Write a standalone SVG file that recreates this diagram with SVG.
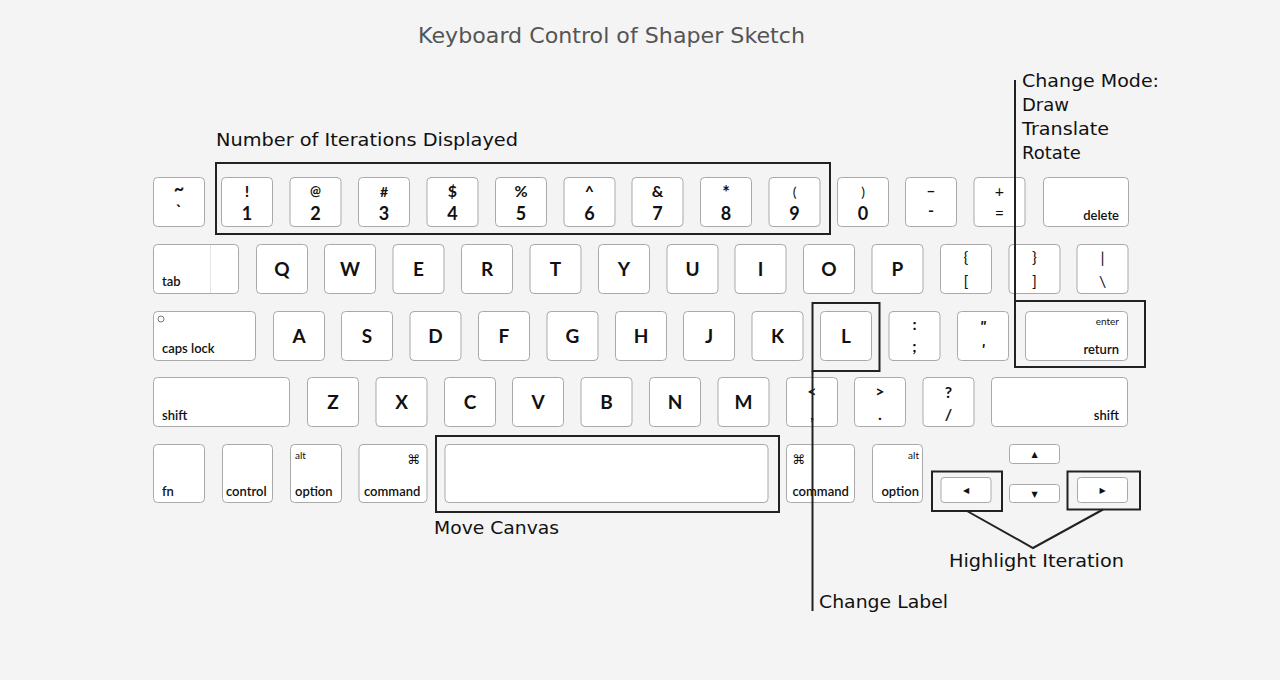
<svg xmlns="http://www.w3.org/2000/svg" width="1280" height="680" viewBox="0 0 1280 680">
<style>
.k{fill:#fff;stroke:#a9a9a9;stroke-width:1}
.L{font-family:Lato,"DejaVu Sans",sans-serif;font-weight:700;font-size:19px;text-anchor:middle;fill:#111}
.d{font-family:Lato,"DejaVu Sans",sans-serif;font-weight:700;font-size:18px;text-anchor:middle;fill:#111}
.s{font-family:Lato,"DejaVu Sans",sans-serif;font-weight:700;font-size:16px;text-anchor:middle;fill:#111}
.t{font-family:Lato,"DejaVu Sans",sans-serif;font-weight:400;font-size:16px;text-anchor:middle;fill:#111}
.m{font-family:Lato,"DejaVu Sans",sans-serif;font-weight:600;font-size:13px;fill:#111}
.me{text-anchor:end}
.sm{font-family:Lato,"DejaVu Sans",sans-serif;font-size:10px;fill:#111}
.sym{font-family:"DejaVu Sans",sans-serif;font-size:13px;fill:#111}
.ar{font-family:"DejaVu Sans",sans-serif;font-size:8px;text-anchor:middle;fill:#111}
.hb{fill:none;stroke:#222;stroke-width:2}
.cn{fill:none;stroke:#222;stroke-width:2}
.a{font-family:"DejaVu Sans",sans-serif;font-size:18px;fill:#111}
.title{font-family:"DejaVu Sans",sans-serif;font-size:22px;fill:#555;text-anchor:middle}
</style>
<rect width="1280" height="680" fill="#f4f4f4"/>
<text class="title" x="611.5" y="43" textLength="387" lengthAdjust="spacingAndGlyphs">Keyboard Control of Shaper Sketch</text>

<g id="row1">
<g id="key-tilde"><rect class="k" x="153.5" y="177.5" width="51" height="49" rx="4"/><text class="s" x="179" y="195" style="font-size:18px">~</text><text class="s" x="179" y="216">`</text></g>
<g id="key-1"><rect class="k" x="221.5" y="177.5" width="51" height="49" rx="4"/><text class="s" x="247" y="197">!</text><text class="d" x="247" y="220">1</text></g>
<g id="key-2"><rect class="k" x="290" y="177.5" width="51" height="49" rx="4"/><text class="s" x="315.5" y="196" style="font-size:13px">@</text><text class="d" x="315.5" y="220">2</text></g>
<g id="key-3"><rect class="k" x="358.5" y="177.5" width="51" height="49" rx="4"/><text class="s" x="384" y="197" style="font-size:14px">#</text><text class="d" x="384" y="220">3</text></g>
<g id="key-4"><rect class="k" x="427" y="177.5" width="51" height="49" rx="4"/><text class="s" x="452.5" y="197">$</text><text class="d" x="452.5" y="220">4</text></g>
<g id="key-5"><rect class="k" x="495.5" y="177.5" width="51" height="49" rx="4"/><text class="s" x="521" y="197">%</text><text class="d" x="521" y="220">5</text></g>
<g id="key-6"><rect class="k" x="564" y="177.5" width="51" height="49" rx="4"/><text class="s" x="589.5" y="197">^</text><text class="d" x="589.5" y="220">6</text></g>
<g id="key-7"><rect class="k" x="632" y="177.5" width="51" height="49" rx="4"/><text class="s" x="657.5" y="197">&amp;</text><text class="d" x="657.5" y="220">7</text></g>
<g id="key-8"><rect class="k" x="700.5" y="177.5" width="51" height="49" rx="4"/><text class="s" x="726" y="199" style="font-size:18px">*</text><text class="d" x="726" y="220">8</text></g>
<g id="key-9"><rect class="k" x="769" y="177.5" width="51" height="49" rx="4"/><text class="t" x="794.5" y="197" style="font-size:14px">(</text><text class="d" x="794.5" y="220">9</text></g>
<g id="key-0"><rect class="k" x="837.5" y="177.5" width="51" height="49" rx="4"/><text class="t" x="863" y="197" style="font-size:14px">)</text><text class="d" x="863" y="220">0</text></g>
<g id="key-minus"><rect class="k" x="905.5" y="177.5" width="51" height="49" rx="4"/><text class="s" x="931" y="196">–</text><text class="s" x="931" y="216">-</text></g>
<g id="key-equal"><rect class="k" x="974" y="177.5" width="51" height="49" rx="4"/><text class="t" x="999.5" y="197">+</text><text class="t" x="999.5" y="219">=</text></g>
<g id="key-delete"><rect class="k" x="1043.5" y="177.5" width="85" height="49" rx="4"/><text class="m me" x="1119" y="219.5">delete</text></g>
</g>

<g id="row2">
<g id="key-tab"><rect class="k" x="153.5" y="244.5" width="85" height="49" rx="4"/><line x1="210.5" y1="245" x2="210.5" y2="293" stroke="#e4e4e4"/><text class="m" x="162" y="286">tab</text></g>
<g id="key-q"><rect class="k" x="256.5" y="244.5" width="51" height="49" rx="4"/><text class="L" x="282" y="276">Q</text></g>
<g id="key-w"><rect class="k" x="324.5" y="244.5" width="51" height="49" rx="4"/><text class="L" x="350" y="276">W</text></g>
<g id="key-e"><rect class="k" x="393" y="244.5" width="51" height="49" rx="4"/><text class="L" x="418.5" y="276">E</text></g>
<g id="key-r"><rect class="k" x="461.5" y="244.5" width="51" height="49" rx="4"/><text class="L" x="487" y="276">R</text></g>
<g id="key-t"><rect class="k" x="530" y="244.5" width="51" height="49" rx="4"/><text class="L" x="555.5" y="276">T</text></g>
<g id="key-y"><rect class="k" x="598.5" y="244.5" width="51" height="49" rx="4"/><text class="L" x="624" y="276">Y</text></g>
<g id="key-u"><rect class="k" x="667" y="244.5" width="51" height="49" rx="4"/><text class="L" x="692.5" y="276">U</text></g>
<g id="key-i"><rect class="k" x="735" y="244.5" width="51" height="49" rx="4"/><text class="L" x="760.5" y="276">I</text></g>
<g id="key-o"><rect class="k" x="803.5" y="244.5" width="51" height="49" rx="4"/><text class="L" x="829" y="276">O</text></g>
<g id="key-p"><rect class="k" x="872" y="244.5" width="51" height="49" rx="4"/><text class="L" x="897.5" y="276">P</text></g>
<g id="key-lbracket"><rect class="k" x="940.5" y="244.5" width="51" height="49" rx="4"/><text class="t" x="966" y="263">{</text><text class="t" x="966" y="287">[</text></g>
<g id="key-rbracket"><rect class="k" x="1009" y="244.5" width="51" height="49" rx="4"/><text class="t" x="1034.5" y="263">}</text><text class="t" x="1034.5" y="287">]</text></g>
<g id="key-backslash"><rect class="k" x="1077" y="244.5" width="51" height="49" rx="4"/><text class="t" x="1102.5" y="263">|</text><text class="t" x="1102.5" y="287">\</text></g>
</g>

<g id="row3">
<g id="key-caps"><rect class="k" x="153.5" y="311.5" width="102" height="49" rx="4"/><circle cx="161" cy="319" r="3" fill="none" stroke="#555" stroke-width="0.8"/><text class="m" x="162" y="353">caps lock</text></g>
<g id="key-a"><rect class="k" x="273.5" y="311.5" width="51" height="49" rx="4"/><text class="L" x="299" y="343">A</text></g>
<g id="key-s"><rect class="k" x="341.5" y="311.5" width="51" height="49" rx="4"/><text class="L" x="367" y="343">S</text></g>
<g id="key-d"><rect class="k" x="410" y="311.5" width="51" height="49" rx="4"/><text class="L" x="435.5" y="343">D</text></g>
<g id="key-f"><rect class="k" x="478.5" y="311.5" width="51" height="49" rx="4"/><text class="L" x="504" y="343">F</text></g>
<g id="key-g"><rect class="k" x="547" y="311.5" width="51" height="49" rx="4"/><text class="L" x="572.5" y="343">G</text></g>
<g id="key-h"><rect class="k" x="615.5" y="311.5" width="51" height="49" rx="4"/><text class="L" x="641" y="343">H</text></g>
<g id="key-j"><rect class="k" x="683.5" y="311.5" width="51" height="49" rx="4"/><text class="L" x="709" y="343">J</text></g>
<g id="key-k"><rect class="k" x="752" y="311.5" width="51" height="49" rx="4"/><text class="L" x="777.5" y="343">K</text></g>
<g id="key-l"><rect class="k" x="820.5" y="311.5" width="51" height="49" rx="4"/><text class="L" x="846" y="343">L</text></g>
<g id="key-semicolon"><rect class="k" x="889" y="311.5" width="51" height="49" rx="4"/><text class="s" x="914.5" y="330">:</text><text class="s" x="914.5" y="352">;</text></g>
<g id="key-quote"><rect class="k" x="957.5" y="311.5" width="51" height="49" rx="4"/><text class="s" x="983" y="332" style="font-style:italic">"</text><text class="s" x="983" y="355" style="font-style:italic">'</text></g>
<g id="key-return"><rect class="k" x="1025.5" y="311.5" width="102" height="49" rx="4"/><text class="sm me" x="1119" y="325">enter</text><text class="m me" x="1119" y="354">return</text></g>
</g>

<g id="row4">
<g id="key-lshift"><rect class="k" x="153.5" y="377.5" width="136" height="49" rx="4"/><text class="m" x="162" y="420">shift</text></g>
<g id="key-z"><rect class="k" x="307.5" y="377.5" width="51" height="49" rx="4"/><text class="L" x="333" y="409">Z</text></g>
<g id="key-x"><rect class="k" x="376" y="377.5" width="51" height="49" rx="4"/><text class="L" x="401.5" y="409">X</text></g>
<g id="key-c"><rect class="k" x="444.5" y="377.5" width="51" height="49" rx="4"/><text class="L" x="470" y="409">C</text></g>
<g id="key-v"><rect class="k" x="512.5" y="377.5" width="51" height="49" rx="4"/><text class="L" x="538" y="409">V</text></g>
<g id="key-b"><rect class="k" x="581" y="377.5" width="51" height="49" rx="4"/><text class="L" x="606.5" y="409">B</text></g>
<g id="key-n"><rect class="k" x="649.5" y="377.5" width="51" height="49" rx="4"/><text class="L" x="675" y="409">N</text></g>
<g id="key-m"><rect class="k" x="718" y="377.5" width="51" height="49" rx="4"/><text class="L" x="743.5" y="409">M</text></g>
<g id="key-comma"><rect class="k" x="786.5" y="377.5" width="51" height="49" rx="4"/><text class="s" x="812" y="397">&lt;</text><text class="s" x="812" y="420">,</text></g>
<g id="key-period"><rect class="k" x="854.5" y="377.5" width="51" height="49" rx="4"/><text class="s" x="880" y="397">&gt;</text><text class="s" x="880" y="420">.</text></g>
<g id="key-slash"><rect class="k" x="923" y="377.5" width="51" height="49" rx="4"/><text class="s" x="948.5" y="398">?</text><text class="s" x="948.5" y="420">/</text></g>
<g id="key-rshift"><rect class="k" x="991.5" y="377.5" width="136" height="49" rx="4"/><text class="m me" x="1119" y="420">shift</text></g>
</g>

<g id="row5">
<g id="key-fn"><rect class="k" x="153.5" y="444.5" width="51" height="58" rx="4"/><text class="m" x="162" y="496">fn</text></g>
<g id="key-control"><rect class="k" x="222.5" y="444.5" width="50" height="58" rx="4"/><text class="m" x="226" y="496">control</text></g>
<g id="key-loption"><rect class="k" x="290.5" y="444.5" width="51" height="58" rx="4"/><text class="sm" x="295" y="459">alt</text><text class="m" x="295" y="496">option</text></g>
<g id="key-lcommand"><rect class="k" x="359" y="444.5" width="68" height="58" rx="4"/><text class="sym me" x="420" y="464">⌘</text><text class="m" x="364" y="496">command</text></g>
<g id="key-space"><rect class="k" x="445" y="444.5" width="323" height="58" rx="4"/></g>
<g id="key-rcommand"><rect class="k" x="786.5" y="444.5" width="68" height="58" rx="4"/><text class="sym" x="792" y="464">⌘</text><text class="m" x="792.5" y="496">command</text></g>
<g id="key-roption"><rect class="k" x="872.5" y="444.5" width="50" height="58" rx="4"/><text class="sm me" x="919" y="459">alt</text><text class="m me" x="919" y="496">option</text></g>
<g id="key-up"><rect class="k" x="1009.5" y="444.5" width="50" height="19" rx="3"/><text class="ar" x="1034.5" y="457">▲</text></g>
<g id="key-left"><rect class="k" x="941" y="477.5" width="50" height="25" rx="3"/><text class="ar" x="966" y="493">◀</text></g>
<g id="key-down"><rect class="k" x="1009.5" y="484.5" width="50" height="18" rx="3"/><text class="ar" x="1034.5" y="497">▼</text></g>
<g id="key-right"><rect class="k" x="1077.5" y="477.5" width="50" height="25" rx="3"/><text class="ar" x="1102.5" y="493">▶</text></g>
</g>

<g id="highlights">
<rect class="hb" x="216" y="163" width="614" height="71"/>
<rect class="hb" x="436" y="436" width="343" height="76"/>
<rect class="hb" x="812.5" y="303" width="67" height="68"/>
<rect class="hb" x="1015" y="301" width="130" height="66"/>
<rect class="hb" x="932" y="471.5" width="70" height="39.5"/>
<rect class="hb" x="1067.5" y="471.5" width="72.5" height="38"/>
</g>

<g id="connectors">
<line class="cn" x1="1015" y1="80" x2="1015" y2="301"/>
<line class="cn" x1="812.5" y1="371" x2="812.5" y2="611"/>
<polyline class="cn" points="967,511 1033,548 1103,509.5"/>
</g>

<g id="labels">
<text class="a" x="216" y="146" textLength="302" lengthAdjust="spacingAndGlyphs">Number of Iterations Displayed</text>
<text class="a" x="1022" y="87" textLength="137" lengthAdjust="spacingAndGlyphs">Change Mode:</text>
<text class="a" x="1022" y="111">Draw</text>
<text class="a" x="1022" y="135" textLength="87" lengthAdjust="spacingAndGlyphs">Translate</text>
<text class="a" x="1022" y="159">Rotate</text>
<text class="a" x="434" y="534" textLength="125" lengthAdjust="spacingAndGlyphs">Move Canvas</text>
<text class="a" x="949" y="567" textLength="175" lengthAdjust="spacingAndGlyphs">Highlight Iteration</text>
<text class="a" x="819" y="607.5" textLength="129" lengthAdjust="spacingAndGlyphs">Change Label</text>
</g>
</svg>
